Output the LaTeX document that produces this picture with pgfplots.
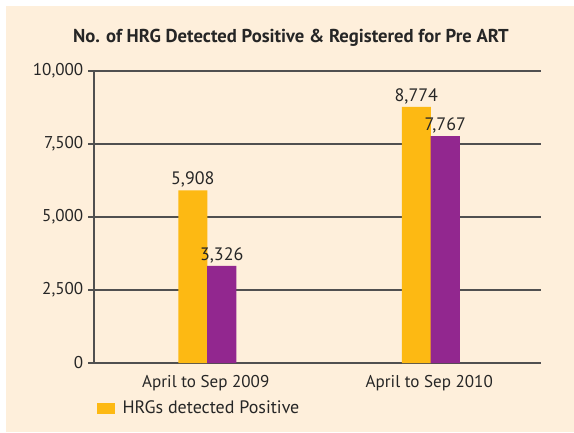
\documentclass[border=0pt]{standalone}
\usepackage{fontspec}
\setmainfont{PT Sans}
\usepackage{pgfplots}
\pgfplotsset{compat=1.18}
\definecolor{cream}{HTML}{FEEFDB}
\definecolor{hrgorange}{HTML}{FDB913}
\definecolor{hrgpurple}{HTML}{92278F}
\definecolor{gridc}{HTML}{505050}
\begin{document}
\begin{tikzpicture}
\useasboundingbox (0,0) rectangle (430.5pt,324pt);
\fill[white] (0,0) rectangle (430.5pt,324pt);
\fill[cream] (4.5pt,0pt) rectangle (430.5pt,319.5pt);
\node[font=\fontsize{14}{16}\selectfont\bfseries, text=black!85] at (218.25pt,295.5pt) {No. of HRG Detected Positive \& Registered for Pre ART};
\begin{axis}[
  at={(70.5pt,51.75pt)}, anchor=south west,
  scale only axis, width=335.25pt, height=219pt,
  xmin=-0.5, xmax=1.5, ymin=0, ymax=10000,
  axis x line*=bottom, axis y line*=left,
  axis line style={gridc, line width=1pt},
  xtick={0,1}, xticklabels={April to Sep 2009, April to Sep 2010},
  x tick style={draw=none},
  minor xtick={-0.5,0.5,1.5},
  minor x tick style={gridc, line width=1pt},
  minor tick length=4.5pt,
  ytick={0,2500,5000,7500,10000},
  y tick style={gridc, line width=1pt},
  major tick length=4.5pt,
  tick align=outside,
  ymajorgrids, grid style={gridc, line width=0.8pt},
  /pgf/number format/assume math mode=true,
  /pgf/number format/.cd, 1000 sep={,}, /pgfplots/.cd,
  scaled y ticks=false,
  ticklabel style={font=\fontsize{12.8}{14}\selectfont, text=black!85},
  y tick label style={xshift=0pt},
  x tick label style={yshift=-1pt},
  ybar, bar width=0.13,
  nodes near coords,
  every node near coord/.append style={font=\fontsize{13.5}{15}\selectfont, text=black!85, inner sep=2pt, /pgf/number format/assume math mode=true, /pgf/number format/1000 sep={,}},
  legend style={at={(0.0067,-0.156)}, anchor=west, draw=none, fill=none, font=\fontsize{13.5}{15}\selectfont, text=black!85, inner sep=0pt, /tikz/every odd column/.append style={column sep=3.5pt}},
  legend image code/.code={\fill[#1] (0pt,-4.1pt) rectangle (13.5pt,4.1pt);},
  clip=false,
]
\addplot[fill=hrgorange, draw=none, bar shift=-0.058] coordinates {(0,5908) (1,8774)};
\addlegendentry{HRGs detected Positive}
\addplot[fill=hrgpurple, draw=none, bar shift=0.0715, forget plot] coordinates {(0,3326) (1,7767)};
\end{axis}
\end{tikzpicture}
\end{document}
